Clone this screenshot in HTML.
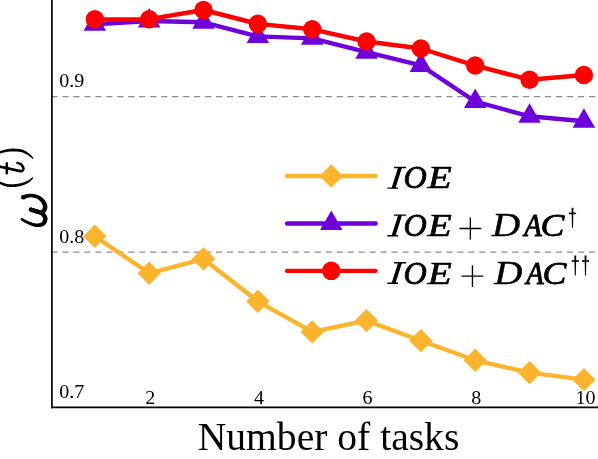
<!DOCTYPE html>
<html><head><meta charset="utf-8"><title>chart</title>
<style>html,body{margin:0;padding:0;background:#fff;overflow:hidden}svg{display:block}text{font-family:"Liberation Serif",serif;fill:#000}svg{will-change:transform;opacity:0.999}.it{font-style:italic}</style></head><body>
<svg width="598" height="459" viewBox="0 0 598 459">
<rect width="598" height="459" fill="#fff"/>
<line x1="51.44" y1="96.6" x2="600" y2="96.6" stroke="#8c8c8c" stroke-width="1.2" stroke-dasharray="6.15 4.82"/>
<line x1="51.44" y1="252.1" x2="600" y2="252.1" stroke="#8c8c8c" stroke-width="1.2" stroke-dasharray="6.15 4.82"/>
<polyline points="94.85,236.30 149.19,273.30 203.53,258.90 257.87,301.30 312.21,331.90 366.55,320.60 420.89,340.80 475.23,360.30 529.57,372.65 583.91,379.65" fill="none" stroke="#fbb42e" stroke-width="4.4" stroke-linejoin="round" stroke-linecap="butt"/>
<polygon points="94.85,224.58 106.57,236.30 94.85,248.02 83.13,236.30" fill="#fbb42e"/>
<polygon points="149.19,261.58 160.91,273.30 149.19,285.02 137.47,273.30" fill="#fbb42e"/>
<polygon points="203.53,247.18 215.25,258.90 203.53,270.62 191.81,258.90" fill="#fbb42e"/>
<polygon points="257.87,289.58 269.59,301.30 257.87,313.02 246.15,301.30" fill="#fbb42e"/>
<polygon points="312.21,320.18 323.93,331.90 312.21,343.62 300.49,331.90" fill="#fbb42e"/>
<polygon points="366.55,308.88 378.27,320.60 366.55,332.32 354.83,320.60" fill="#fbb42e"/>
<polygon points="420.89,329.08 432.61,340.80 420.89,352.52 409.17,340.80" fill="#fbb42e"/>
<polygon points="475.23,348.58 486.95,360.30 475.23,372.02 463.51,360.30" fill="#fbb42e"/>
<polygon points="529.57,360.93 541.29,372.65 529.57,384.37 517.85,372.65" fill="#fbb42e"/>
<polygon points="583.91,367.93 595.63,379.65 583.91,391.37 572.19,379.65" fill="#fbb42e"/>
<polyline points="94.85,24.20 149.19,21.00 203.53,22.30 257.87,36.40 312.21,38.35 366.55,52.20 420.89,65.40 475.23,101.50 529.57,116.30 583.91,121.20" fill="none" stroke="#6e00da" stroke-width="4.4" stroke-linejoin="round"/>
<polygon points="94.85,11.20 106.11,30.70 83.59,30.70" fill="#6e00da"/>
<polygon points="149.19,8.00 160.45,27.50 137.93,27.50" fill="#6e00da"/>
<polygon points="203.53,9.30 214.79,28.80 192.27,28.80" fill="#6e00da"/>
<polygon points="257.87,23.40 269.13,42.90 246.61,42.90" fill="#6e00da"/>
<polygon points="312.21,25.35 323.47,44.85 300.95,44.85" fill="#6e00da"/>
<polygon points="366.55,39.20 377.81,58.70 355.29,58.70" fill="#6e00da"/>
<polygon points="420.89,52.40 432.15,71.90 409.63,71.90" fill="#6e00da"/>
<polygon points="475.23,88.50 486.49,108.00 463.97,108.00" fill="#6e00da"/>
<polygon points="529.57,103.30 540.83,122.80 518.31,122.80" fill="#6e00da"/>
<polygon points="583.91,108.20 595.17,127.70 572.65,127.70" fill="#6e00da"/>
<polyline points="94.85,19.35 149.19,19.20 203.53,10.00 257.87,23.85 312.21,29.30 366.55,41.50 420.89,48.50 475.23,65.55 529.57,79.70 583.91,74.95" fill="none" stroke="#ff0000" stroke-width="4.4" stroke-linejoin="round"/>
<circle cx="94.85" cy="19.35" r="9.25" fill="#ff0000"/>
<circle cx="149.19" cy="19.20" r="9.25" fill="#ff0000"/>
<circle cx="203.53" cy="10.00" r="9.25" fill="#ff0000"/>
<circle cx="257.87" cy="23.85" r="9.25" fill="#ff0000"/>
<circle cx="312.21" cy="29.30" r="9.25" fill="#ff0000"/>
<circle cx="366.55" cy="41.50" r="9.25" fill="#ff0000"/>
<circle cx="420.89" cy="48.50" r="9.25" fill="#ff0000"/>
<circle cx="475.23" cy="65.55" r="9.25" fill="#ff0000"/>
<circle cx="529.57" cy="79.70" r="9.25" fill="#ff0000"/>
<circle cx="583.91" cy="74.95" r="9.25" fill="#ff0000"/>
<line x1="51.9" y1="0" x2="51.9" y2="408.2" stroke="#000" stroke-width="1.7"/>
<line x1="51.05" y1="407.4" x2="598" y2="407.4" stroke="#000" stroke-width="1.6"/>
<text x="328.5" y="450.4" font-size="39.6" text-anchor="middle">Number of tasks</text>
<text transform="translate(59.2,87.2) scale(1.035,1)" font-size="19.4">0.9</text>
<text transform="translate(59.2,242.6) scale(1.035,1)" font-size="19.4">0.8</text>
<text transform="translate(59.2,398.0) scale(1.035,1)" font-size="19.4">0.7</text>
<text transform="translate(150.25,404) scale(1.035,1)" font-size="19.4" text-anchor="middle">2</text>
<text transform="translate(259.0,404) scale(1.035,1)" font-size="19.4" text-anchor="middle">4</text>
<text transform="translate(367.6,404) scale(1.035,1)" font-size="19.4" text-anchor="middle">6</text>
<text transform="translate(476.2,404) scale(1.035,1)" font-size="19.4" text-anchor="middle">8</text>
<text transform="translate(585.5,404) scale(1.035,1)" font-size="19.4" text-anchor="middle">10</text>
<line x1="287.1" y1="175.95" x2="375.6" y2="175.95" stroke="#fbb42e" stroke-width="4.4" stroke-linecap="round"/>
<polygon points="331.30,164.23 343.02,175.95 331.30,187.67 319.58,175.95" fill="#fbb42e"/>
<line x1="287.1" y1="223.5" x2="375.6" y2="223.5" stroke="#6e00da" stroke-width="4.4" stroke-linecap="round"/>
<polygon points="331.30,210.50 342.56,230.00 320.04,230.00" fill="#6e00da"/>
<line x1="287.1" y1="270.85" x2="375.6" y2="270.85" stroke="#ff0000" stroke-width="4.4" stroke-linecap="round"/>
<circle cx="331.30" cy="270.85" r="9.25" fill="#ff0000"/>
<path d="M398.2,167.30 L402.1,167.30 L395.4,188.30 L391.5,188.30 Z" fill="#000"/>
<path d="M394.0,167.50 H406.1 M387.4,188.10 H398.1" stroke="#000" stroke-width="1.4" fill="none"/>
<text class="it" transform="translate(403.48,188.40) scale(0.9956,1)" font-size="32.38" stroke="#000" stroke-width="0.8" stroke-linejoin="round" style="vector-effect:non-scaling-stroke">O</text>
<text class="it" transform="translate(427.81,188.45) scale(1.2066,1)" font-size="32.53" stroke="#000" stroke-width="0.7" stroke-linejoin="round" style="vector-effect:non-scaling-stroke">E</text>
<path d="M398.2,214.90 L402.1,214.90 L395.4,235.90 L391.5,235.90 Z" fill="#000"/>
<path d="M394.0,215.10 H406.1 M387.4,235.70 H398.1" stroke="#000" stroke-width="1.4" fill="none"/>
<text class="it" transform="translate(403.48,236.00) scale(0.9956,1)" font-size="32.38" stroke="#000" stroke-width="0.8" stroke-linejoin="round" style="vector-effect:non-scaling-stroke">O</text>
<text class="it" transform="translate(427.81,236.05) scale(1.2066,1)" font-size="32.53" stroke="#000" stroke-width="0.7" stroke-linejoin="round" style="vector-effect:non-scaling-stroke">E</text>
<text class="it" transform="translate(492.06,236.18) scale(1.1867,1)" font-size="32.91" stroke="#000" stroke-width="0.45" stroke-linejoin="round" style="vector-effect:non-scaling-stroke">D</text>
<text class="it" transform="translate(524.26,235.90) scale(0.8902,1)" font-size="32.07" stroke="#000" stroke-width="1.0" stroke-linejoin="round" style="vector-effect:non-scaling-stroke">A</text>
<text class="it" transform="translate(540.44,235.97) scale(1.1050,1)" font-size="32.30" stroke="#000" stroke-width="0.85" stroke-linejoin="round" style="vector-effect:non-scaling-stroke">C</text>
<path d="M459.45,228.50H481.25M470.35,217.60V239.40" stroke="#000" stroke-width="1.35" fill="none"/>
<path d="M571.55,207.80 L573.45,207.80 L573.00,227.80 L572.00,227.80 Z" fill="#000"/>
<path d="M568.90,213.40 H576.10" stroke="#000" stroke-width="1.6" fill="none"/>
<path d="M398.2,262.50 L402.1,262.50 L395.4,283.50 L391.5,283.50 Z" fill="#000"/>
<path d="M394.0,262.70 H406.1 M387.4,283.30 H398.1" stroke="#000" stroke-width="1.4" fill="none"/>
<text class="it" transform="translate(403.48,283.60) scale(0.9956,1)" font-size="32.38" stroke="#000" stroke-width="0.8" stroke-linejoin="round" style="vector-effect:non-scaling-stroke">O</text>
<text class="it" transform="translate(427.81,283.65) scale(1.2066,1)" font-size="32.53" stroke="#000" stroke-width="0.7" stroke-linejoin="round" style="vector-effect:non-scaling-stroke">E</text>
<text class="it" transform="translate(494.16,283.77) scale(1.1867,1)" font-size="32.91" stroke="#000" stroke-width="0.45" stroke-linejoin="round" style="vector-effect:non-scaling-stroke">D</text>
<text class="it" transform="translate(526.36,283.50) scale(0.8902,1)" font-size="32.07" stroke="#000" stroke-width="1.0" stroke-linejoin="round" style="vector-effect:non-scaling-stroke">A</text>
<text class="it" transform="translate(542.54,283.57) scale(1.1050,1)" font-size="32.30" stroke="#000" stroke-width="0.85" stroke-linejoin="round" style="vector-effect:non-scaling-stroke">C</text>
<path d="M461.55,276.10H483.35M472.45,265.20V287.00" stroke="#000" stroke-width="1.35" fill="none"/>
<path d="M574.35,255.40 L576.25,255.40 L575.80,275.40 L574.80,275.40 Z" fill="#000"/>
<path d="M571.70,261.00 H578.90" stroke="#000" stroke-width="1.6" fill="none"/>
<path d="M584.55,255.40 L586.45,255.40 L586.00,275.40 L585.00,275.40 Z" fill="#000"/>
<path d="M581.90,261.00 H589.10" stroke="#000" stroke-width="1.6" fill="none"/>
<path d="M24.08,199.46 L24.29,199.34 L24.54,199.20 L24.82,199.05 L25.13,198.88 L25.45,198.71 L25.79,198.54 L26.14,198.37 L26.49,198.20 L26.84,198.04 L27.17,197.90 L27.48,197.77 L27.77,197.66 L28.08,197.60 L28.41,197.54 L28.72,197.49 L29.04,197.45 L29.35,197.41 L29.66,197.38 L29.98,197.36 L30.29,197.35 L30.62,197.34 L30.95,197.35 L31.29,197.37 L31.64,197.39 L32.02,197.44 L32.43,197.49 L32.84,197.55 L33.27,197.62 L33.70,197.70 L34.13,197.79 L34.55,197.88 L34.97,197.99 L35.38,198.11 L35.77,198.23 L36.14,198.37 L36.49,198.51 L36.83,198.67 L37.17,198.85 L37.51,199.04 L37.84,199.25 L38.17,199.46 L38.50,199.69 L38.82,199.92 L39.12,200.16 L39.42,200.41 L39.71,200.66 L39.97,200.91 L40.22,201.15 L40.45,201.40 L40.67,201.65 L40.88,201.91 L41.08,202.19 L41.27,202.46 L41.45,202.74 L41.62,203.03 L41.78,203.31 L41.93,203.60 L42.07,203.88 L42.19,204.15 L42.30,204.42 L42.41,204.67 L42.50,204.92 L42.59,205.17 L42.66,205.41 L42.72,205.66 L42.77,205.90 L42.81,206.13 L42.84,206.35 L42.86,206.57 L42.87,206.77 L42.87,206.96 L42.86,207.14 L42.84,207.31 L42.82,207.49 L42.78,207.68 L42.73,207.87 L42.68,208.07 L42.61,208.26 L42.53,208.45 L42.45,208.63 L42.36,208.80 L42.28,208.95 L42.19,209.08 L42.11,209.19 L42.03,209.29 L41.94,209.40 L41.84,209.50 L41.73,209.60 L41.61,209.69 L41.48,209.77 L41.35,209.85 L41.22,209.93 L41.08,209.99 L40.94,210.05 L40.80,210.09 L40.67,210.13 L40.55,210.14 L40.41,210.15 L40.24,210.14 L40.02,210.12 L39.79,210.09 L39.52,210.05 L39.24,210.00 L38.94,209.94 L38.63,209.87 L38.31,209.79 L37.97,209.72 L37.65,209.65 L37.35,209.58 L37.06,209.51 L36.76,209.44 L36.45,209.35 L36.14,209.27 L35.83,209.18 L35.52,209.08 L35.22,208.99 L34.92,208.89 L34.63,208.80 L34.34,208.70 L34.08,208.61 L33.84,208.54 L33.59,208.46 L33.34,208.37 L33.10,208.28 L32.85,208.19 L32.62,208.10 L32.39,208.01 L32.17,207.92 L31.97,207.84 L31.79,207.77 L31.61,207.71 L31.47,207.66 L29.93,211.34 L30.04,211.40 L30.18,211.47 L30.35,211.55 L30.55,211.65 L30.77,211.75 L31.01,211.87 L31.27,211.99 L31.54,212.11 L31.82,212.23 L32.12,212.35 L32.42,212.47 L32.72,212.59 L33.01,212.69 L33.31,212.79 L33.63,212.89 L33.95,212.99 L34.29,213.10 L34.63,213.20 L34.98,213.30 L35.33,213.40 L35.69,213.50 L36.05,213.59 L36.41,213.68 L36.75,213.75 L37.07,213.82 L37.38,213.89 L37.72,213.97 L38.07,214.04 L38.43,214.12 L38.80,214.19 L39.19,214.25 L39.59,214.30 L40.00,214.33 L40.43,214.35 L40.88,214.33 L41.33,214.27 L41.75,214.20 L42.14,214.10 L42.53,213.98 L42.91,213.84 L43.27,213.68 L43.63,213.50 L43.97,213.30 L44.30,213.08 L44.62,212.84 L44.93,212.58 L45.21,212.31 L45.49,212.01 L45.74,211.69 L45.98,211.36 L46.20,211.01 L46.39,210.66 L46.58,210.29 L46.74,209.91 L46.89,209.52 L47.02,209.13 L47.13,208.72 L47.23,208.31 L47.30,207.89 L47.34,207.46 L47.36,207.04 L47.35,206.62 L47.32,206.20 L47.27,205.79 L47.21,205.38 L47.13,204.97 L47.03,204.56 L46.91,204.16 L46.78,203.76 L46.63,203.36 L46.47,202.97 L46.30,202.58 L46.10,202.21 L45.89,201.83 L45.66,201.46 L45.42,201.09 L45.17,200.71 L44.90,200.34 L44.61,199.98 L44.31,199.61 L44.00,199.26 L43.67,198.91 L43.33,198.57 L42.98,198.25 L42.62,197.94 L42.25,197.63 L41.86,197.34 L41.47,197.05 L41.06,196.76 L40.64,196.49 L40.21,196.22 L39.77,195.97 L39.31,195.73 L38.86,195.50 L38.39,195.29 L37.91,195.09 L37.42,194.90 L36.92,194.73 L36.41,194.58 L35.90,194.44 L35.39,194.32 L34.87,194.21 L34.36,194.12 L33.86,194.03 L33.36,193.96 L32.88,193.90 L32.41,193.85 L31.96,193.81 L31.51,193.77 L31.06,193.75 L30.63,193.74 L30.20,193.75 L29.78,193.77 L29.37,193.79 L28.97,193.83 L28.58,193.88 L28.19,193.93 L27.80,193.99 L27.42,194.06 L27.03,194.14 L26.59,194.20 L26.13,194.28 L25.68,194.37 L25.23,194.48 L24.78,194.59 L24.36,194.70 L23.95,194.81 L23.58,194.91 L23.24,195.00 L22.94,195.07 L22.71,195.11 L22.52,195.14Z" fill="#000"/>
<circle cx="23.30" cy="197.30" r="2.30" fill="#000"/>
<circle cx="30.70" cy="209.50" r="2.00" fill="#000"/>
<path d="M30.12,211.41 L30.44,211.52 L30.85,211.65 L31.33,211.80 L31.87,211.97 L32.45,212.15 L33.06,212.34 L33.68,212.54 L34.30,212.73 L34.91,212.93 L35.49,213.13 L36.03,213.31 L36.52,213.49 L37.00,213.66 L37.48,213.82 L37.93,213.97 L38.36,214.12 L38.77,214.26 L39.15,214.40 L39.51,214.53 L39.83,214.67 L40.13,214.81 L40.39,214.95 L40.63,215.09 L40.84,215.24 L41.04,215.41 L41.25,215.60 L41.45,215.81 L41.65,216.04 L41.85,216.28 L42.03,216.54 L42.20,216.79 L42.37,217.05 L42.51,217.31 L42.64,217.55 L42.75,217.78 L42.83,217.99 L42.90,218.16 L42.95,218.31 L42.99,218.46 L43.02,218.59 L43.04,218.73 L43.05,218.86 L43.05,219.00 L43.04,219.15 L43.03,219.31 L43.00,219.47 L42.97,219.65 L42.92,219.84 L42.88,220.03 L42.82,220.24 L42.76,220.46 L42.68,220.69 L42.59,220.91 L42.49,221.13 L42.39,221.34 L42.28,221.53 L42.17,221.70 L42.06,221.85 L41.96,221.98 L41.86,222.08 L41.76,222.18 L41.63,222.28 L41.47,222.39 L41.27,222.50 L41.05,222.61 L40.81,222.71 L40.55,222.81 L40.27,222.91 L39.98,222.99 L39.69,223.08 L39.38,223.16 L39.08,223.23 L38.78,223.29 L38.49,223.35 L38.20,223.40 L37.92,223.44 L37.63,223.48 L37.34,223.50 L37.04,223.52 L36.74,223.52 L36.42,223.52 L36.10,223.50 L35.76,223.47 L35.41,223.43 L35.05,223.37 L34.66,223.29 L34.24,223.20 L33.79,223.08 L33.34,222.95 L32.87,222.81 L32.40,222.66 L31.93,222.51 L31.46,222.36 L31.01,222.20 L30.57,222.05 L30.15,221.90 L29.75,221.76 L29.38,221.61 L29.00,221.46 L28.64,221.31 L28.28,221.16 L27.93,221.00 L27.59,220.85 L27.25,220.69 L26.92,220.53 L26.59,220.38 L26.27,220.22 L25.96,220.06 L25.65,219.91 L25.34,219.74 L25.03,219.57 L24.71,219.39 L24.40,219.21 L24.10,219.03 L23.81,218.86 L23.54,218.69 L23.28,218.54 L23.05,218.41 L22.85,218.29 L22.68,218.19 L21.32,220.41 L21.46,220.51 L21.64,220.63 L21.86,220.78 L22.10,220.94 L22.37,221.12 L22.66,221.32 L22.97,221.52 L23.30,221.73 L23.63,221.94 L23.97,222.14 L24.31,222.35 L24.64,222.54 L24.97,222.72 L25.30,222.90 L25.63,223.08 L25.98,223.26 L26.33,223.44 L26.69,223.62 L27.06,223.81 L27.44,223.99 L27.83,224.17 L28.23,224.35 L28.64,224.52 L29.05,224.70 L29.47,224.88 L29.91,225.06 L30.37,225.26 L30.85,225.45 L31.33,225.65 L31.83,225.84 L32.33,226.02 L32.83,226.20 L33.33,226.37 L33.82,226.52 L34.31,226.66 L34.79,226.77 L35.24,226.86 L35.69,226.94 L36.12,227.00 L36.55,227.05 L36.97,227.08 L37.38,227.10 L37.78,227.11 L38.18,227.10 L38.57,227.08 L38.96,227.05 L39.34,227.02 L39.72,226.97 L40.10,226.92 L40.48,226.86 L40.88,226.79 L41.28,226.71 L41.68,226.61 L42.09,226.50 L42.50,226.37 L42.91,226.22 L43.32,226.04 L43.73,225.84 L44.14,225.60 L44.54,225.32 L44.91,225.00 L45.24,224.67 L45.55,224.31 L45.83,223.95 L46.08,223.58 L46.31,223.21 L46.52,222.83 L46.71,222.45 L46.88,222.08 L47.03,221.70 L47.16,221.33 L47.28,220.96 L47.36,220.60 L47.44,220.23 L47.49,219.86 L47.53,219.47 L47.55,219.08 L47.54,218.67 L47.51,218.26 L47.46,217.85 L47.37,217.44 L47.26,217.02 L47.13,216.61 L46.97,216.21 L46.78,215.83 L46.58,215.45 L46.35,215.06 L46.11,214.68 L45.84,214.29 L45.56,213.90 L45.25,213.52 L44.92,213.14 L44.57,212.78 L44.19,212.42 L43.79,212.08 L43.36,211.76 L42.91,211.46 L42.45,211.20 L41.99,210.96 L41.53,210.76 L41.07,210.57 L40.61,210.40 L40.15,210.25 L39.70,210.10 L39.24,209.95 L38.79,209.81 L38.34,209.67 L37.88,209.51 L37.36,209.34 L36.77,209.16 L36.16,208.97 L35.52,208.78 L34.87,208.60 L34.23,208.41 L33.61,208.23 L33.02,208.07 L32.48,207.92 L32.00,207.78 L31.60,207.67 L31.28,207.59Z" fill="#000"/>
<circle cx="30.70" cy="209.50" r="2.00" fill="#000"/>
<circle cx="22.00" cy="219.30" r="1.30" fill="#000"/>
<path d="M-1.65,154.14 L-1.36,154.06 L-1.00,153.95 L-0.59,153.81 L-0.13,153.67 L0.36,153.50 L0.88,153.34 L1.43,153.17 L1.99,153.00 L2.57,152.83 L3.14,152.68 L3.71,152.54 L4.28,152.42 L4.86,152.30 L5.47,152.18 L6.08,152.06 L6.71,151.94 L7.34,151.83 L7.99,151.73 L8.64,151.64 L9.30,151.56 L9.97,151.49 L10.65,151.44 L11.33,151.41 L12.03,151.40 L12.76,151.39 L13.54,151.39 L14.36,151.41 L15.19,151.44 L16.03,151.48 L16.88,151.54 L17.72,151.61 L18.54,151.70 L19.34,151.80 L20.10,151.92 L20.81,152.06 L21.46,152.21 L22.07,152.35 L22.65,152.52 L23.21,152.71 L23.75,152.92 L24.27,153.15 L24.78,153.39 L25.28,153.64 L25.77,153.91 L26.26,154.19 L26.74,154.48 L27.23,154.78 L27.71,155.07 L28.18,155.35 L28.67,155.67 L29.16,156.01 L29.65,156.38 L30.14,156.76 L30.61,157.14 L31.06,157.51 L31.49,157.86 L31.89,158.19 L32.25,158.48 L32.57,158.72 L32.83,158.91 L33.57,158.09 L33.37,157.86 L33.12,157.56 L32.83,157.22 L32.49,156.83 L32.11,156.41 L31.70,155.97 L31.27,155.52 L30.82,155.05 L30.35,154.60 L29.87,154.15 L29.38,153.72 L28.89,153.33 L28.42,152.99 L27.95,152.65 L27.47,152.30 L26.98,151.96 L26.47,151.62 L25.94,151.29 L25.38,150.96 L24.79,150.65 L24.18,150.35 L23.53,150.08 L22.85,149.82 L22.14,149.59 L21.38,149.41 L20.58,149.25 L19.74,149.11 L18.88,148.99 L18.00,148.88 L17.11,148.80 L16.21,148.73 L15.32,148.67 L14.45,148.63 L13.59,148.61 L12.76,148.60 L11.97,148.60 L11.20,148.64 L10.43,148.70 L9.68,148.78 L8.95,148.88 L8.24,148.99 L7.54,149.12 L6.86,149.25 L6.20,149.40 L5.55,149.54 L4.93,149.69 L4.32,149.84 L3.72,149.98 L3.11,150.14 L2.49,150.32 L1.87,150.51 L1.27,150.71 L0.68,150.91 L0.12,151.11 L-0.41,151.31 L-0.90,151.50 L-1.35,151.67 L-1.74,151.82 L-2.08,151.95 L-2.35,152.06Z" fill="#000"/>
<path d="M-2.42,182.92 L-2.03,183.10 L-1.54,183.33 L-0.95,183.61 L-0.28,183.93 L0.45,184.28 L1.23,184.63 L2.04,185.00 L2.88,185.35 L3.73,185.69 L4.58,185.99 L5.42,186.26 L6.23,186.47 L7.00,186.63 L7.77,186.75 L8.54,186.86 L9.31,186.93 L10.09,186.99 L10.86,187.02 L11.63,187.04 L12.39,187.04 L13.16,187.02 L13.92,186.99 L14.68,186.95 L15.43,186.89 L16.20,186.80 L16.99,186.69 L17.79,186.56 L18.58,186.41 L19.38,186.24 L20.16,186.06 L20.93,185.87 L21.68,185.67 L22.41,185.47 L23.11,185.26 L23.78,185.05 L24.41,184.83 L25.01,184.60 L25.58,184.35 L26.12,184.09 L26.63,183.83 L27.12,183.56 L27.58,183.29 L28.02,183.01 L28.43,182.74 L28.84,182.46 L29.22,182.18 L29.59,181.90 L29.97,181.62 L30.34,181.31 L30.72,180.97 L31.07,180.62 L31.41,180.27 L31.73,179.92 L32.03,179.58 L32.31,179.25 L32.56,178.93 L32.79,178.65 L32.99,178.39 L33.15,178.17 L33.28,178.00 L32.52,177.20 L32.33,177.34 L32.10,177.51 L31.84,177.72 L31.56,177.96 L31.26,178.21 L30.94,178.47 L30.61,178.74 L30.26,179.02 L29.91,179.28 L29.55,179.53 L29.19,179.77 L28.83,179.98 L28.46,180.20 L28.08,180.42 L27.69,180.64 L27.29,180.86 L26.89,181.07 L26.47,181.27 L26.04,181.47 L25.60,181.67 L25.13,181.85 L24.64,182.03 L24.13,182.20 L23.59,182.37 L23.00,182.55 L22.37,182.73 L21.70,182.91 L21.01,183.09 L20.30,183.26 L19.56,183.43 L18.82,183.58 L18.08,183.72 L17.33,183.84 L16.60,183.95 L15.87,184.04 L15.17,184.11 L14.46,184.17 L13.75,184.23 L13.04,184.28 L12.33,184.31 L11.62,184.32 L10.92,184.33 L10.22,184.31 L9.52,184.27 L8.82,184.22 L8.13,184.14 L7.44,184.05 L6.77,183.93 L6.09,183.78 L5.35,183.58 L4.58,183.33 L3.77,183.05 L2.97,182.74 L2.17,182.43 L1.40,182.11 L0.67,181.80 L-0.01,181.51 L-0.62,181.26 L-1.15,181.04 L-1.58,180.88Z" fill="#000"/>
<path d="M-2.28,167.62 L-1.79,167.72 L-1.18,167.85 L-0.46,168.00 L0.34,168.17 L1.21,168.35 L2.14,168.54 L3.09,168.74 L4.06,168.94 L5.03,169.15 L5.97,169.35 L6.87,169.54 L7.71,169.72 L8.53,169.90 L9.36,170.09 L10.21,170.28 L11.06,170.47 L11.91,170.67 L12.75,170.87 L13.57,171.05 L14.36,171.24 L15.13,171.41 L15.85,171.56 L16.53,171.70 L17.14,171.82 L17.68,171.93 L18.18,172.03 L18.63,172.13 L19.06,172.22 L19.47,172.31 L19.86,172.38 L20.25,172.44 L20.64,172.48 L21.04,172.49 L21.44,172.46 L21.86,172.39 L22.27,172.26 L22.68,172.08 L23.05,171.84 L23.38,171.57 L23.68,171.26 L23.94,170.93 L24.16,170.59 L24.34,170.22 L24.49,169.84 L24.61,169.44 L24.68,169.03 L24.71,168.61 L24.69,168.18 L24.62,167.74 L24.50,167.32 L24.35,166.90 L24.17,166.49 L23.97,166.09 L23.74,165.69 L23.49,165.29 L23.22,164.91 L22.95,164.54 L22.65,164.20 L22.35,163.87 L22.02,163.56 L21.65,163.27 L21.24,163.01 L20.82,162.80 L20.39,162.61 L19.97,162.45 L19.56,162.30 L19.17,162.18 L18.80,162.07 L18.47,161.98 L18.19,161.89 L17.98,161.83 L17.82,161.78 L16.98,164.02 L17.20,164.11 L17.47,164.20 L17.77,164.30 L18.09,164.40 L18.42,164.50 L18.77,164.62 L19.10,164.75 L19.43,164.88 L19.73,165.02 L20.00,165.16 L20.21,165.30 L20.38,165.44 L20.55,165.62 L20.75,165.84 L20.96,166.10 L21.16,166.38 L21.36,166.67 L21.54,166.98 L21.70,167.28 L21.84,167.57 L21.96,167.85 L22.04,168.09 L22.09,168.29 L22.11,168.42 L22.10,168.54 L22.09,168.67 L22.06,168.82 L22.01,168.96 L21.95,169.11 L21.87,169.25 L21.78,169.38 L21.68,169.49 L21.59,169.58 L21.49,169.65 L21.41,169.70 L21.33,169.74 L21.24,169.76 L21.13,169.78 L20.99,169.79 L20.81,169.78 L20.59,169.76 L20.31,169.72 L19.99,169.66 L19.62,169.58 L19.20,169.49 L18.73,169.39 L18.22,169.28 L17.66,169.18 L17.06,169.06 L16.41,168.92 L15.71,168.77 L14.96,168.60 L14.17,168.42 L13.35,168.23 L12.52,168.04 L11.67,167.84 L10.81,167.65 L9.96,167.45 L9.11,167.26 L8.29,167.08 L7.44,166.90 L6.53,166.71 L5.59,166.50 L4.62,166.30 L3.65,166.10 L2.69,165.90 L1.76,165.70 L0.89,165.52 L0.09,165.36 L-0.63,165.21 L-1.24,165.08 L-1.72,164.98Z" fill="#000"/>
<circle cx="-2.00" cy="166.30" r="1.35" fill="#000"/>
<circle cx="17.40" cy="162.90" r="1.20" fill="#000"/>
<path d="M6.75,162.3 V174.3" stroke="#000" stroke-width="2.4" fill="none"/>
</svg></body></html>
